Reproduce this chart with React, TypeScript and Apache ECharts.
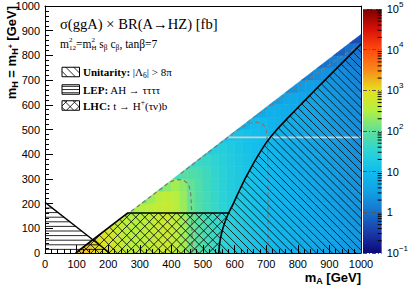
import React, { useEffect, useRef } from "react";
import * as echarts from "echarts";

// ---------------- data ----------------
const AXIS_MIN = 0;
const AXIS_MAX = 1000;
const AXIS_STEP = 100;
const COLORBAR_LOG_MIN = -1;
const COLORBAR_LOG_MAX = 5;
const COLORBAR_DECADES = [-1, 0, 1, 2, 3, 4];
const MINOR_MULTIPLIERS = [2, 3, 4, 5, 6, 7, 8, 9];

const CELL_MA_GEV = 25;
const CELL_MH_GEV = 50;
const ROW_MH_LO = [0, 50, 100, 150, 200, 250, 300, 350, 400, 450, 500, 550, 600, 650, 700, 750, 800, 850];
const ROW_FIRST_MA = [100, 150, 200, 250, 300, 350, 400, 450, 500, 550, 600, 650, 700, 750, 800, 850, 900, 950];

// log10(sigma x BR / fb), one array per mH row, starting at ROW_FIRST_MA, step CELL_MA_GEV in mA
const LOG_SIGMA_MH000 = [3.2, 3.15, 3.02, 2.92, 2.8, 2.68, 2.57, 2.52, 2.56, 2.63, 2.7, 2.72, 2.6, 2.4, 2.12, 1.93, 1.78, 1.65, 1.52, 1.4, 1.3, 1.21, 1.13, 1.06, 0.98, 0.91, 0.85, 0.79, 0.73, 0.68, 0.63, 0.58, 0.53, 0.48, 0.44, 0.4];
const LOG_SIGMA_MH050 = [2.95, 2.88, 2.78, 2.67, 2.56, 2.51, 2.55, 2.62, 2.69, 2.71, 2.59, 2.39, 2.11, 1.92, 1.77, 1.64, 1.51, 1.4, 1.3, 1.21, 1.13, 1.06, 0.98, 0.91, 0.85, 0.79, 0.73, 0.68, 0.63, 0.58, 0.53, 0.48, 0.44, 0.4];
const LOG_SIGMA_MH100 = [2.7, 2.62, 2.54, 2.5, 2.54, 2.61, 2.68, 2.7, 2.58, 2.38, 2.1, 1.91, 1.76, 1.63, 1.5, 1.39, 1.29, 1.2, 1.12, 1.05, 0.97, 0.9, 0.84, 0.78, 0.72, 0.67, 0.62, 0.57, 0.52, 0.47, 0.43, 0.39];
const LOG_SIGMA_MH150 = [2.38, 2.43, 2.5, 2.58, 2.65, 2.68, 2.56, 2.36, 2.08, 1.9, 1.75, 1.62, 1.49, 1.38, 1.28, 1.19, 1.11, 1.04, 0.96, 0.89, 0.83, 0.77, 0.71, 0.66, 0.61, 0.56, 0.51, 0.46, 0.42, 0.38];
const LOG_SIGMA_MH200 = [2.22, 2.38, 2.55, 2.62, 2.52, 2.34, 2.06, 1.88, 1.73, 1.6, 1.47, 1.37, 1.27, 1.18, 1.1, 1.03, 0.95, 0.88, 0.82, 0.76, 0.7, 0.65, 0.6, 0.55, 0.5, 0.45, 0.41, 0.37];
const LOG_SIGMA_MH250 = [2.1, 2.27, 2.4, 2.28, 2.03, 1.86, 1.71, 1.58, 1.46, 1.36, 1.26, 1.17, 1.09, 1.02, 0.94, 0.87, 0.81, 0.75, 0.69, 0.64, 0.59, 0.54, 0.49, 0.44, 0.4, 0.36];
const LOG_SIGMA_MH300 = [1.75, 1.9, 1.88, 1.8, 1.68, 1.56, 1.44, 1.34, 1.25, 1.16, 1.08, 1.01, 0.93, 0.86, 0.8, 0.74, 0.68, 0.63, 0.58, 0.53, 0.48, 0.43, 0.39, 0.35];
const LOG_SIGMA_MH350 = [1.5, 1.62, 1.6, 1.52, 1.41, 1.32, 1.23, 1.15, 1.07, 1.0, 0.92, 0.85, 0.79, 0.73, 0.67, 0.62, 0.57, 0.52, 0.47, 0.42, 0.38, 0.34];
const LOG_SIGMA_MH400 = [1.25, 1.38, 1.37, 1.29, 1.21, 1.13, 1.06, 0.99, 0.91, 0.84, 0.78, 0.72, 0.66, 0.61, 0.56, 0.51, 0.46, 0.41, 0.37, 0.33];
const LOG_SIGMA_MH450 = [1.0, 1.12, 1.15, 1.1, 1.04, 0.98, 0.9, 0.83, 0.77, 0.71, 0.65, 0.6, 0.55, 0.5, 0.45, 0.4, 0.36, 0.32];
const LOG_SIGMA_MH500 = [0.72, 0.88, 0.98, 0.97, 0.88, 0.82, 0.76, 0.7, 0.64, 0.59, 0.54, 0.49, 0.44, 0.39, 0.35, 0.31];
const LOG_SIGMA_MH550 = [0.55, 0.7, 0.78, 0.78, 0.74, 0.68, 0.63, 0.58, 0.53, 0.48, 0.43, 0.38, 0.33, 0.29];
const LOG_SIGMA_MH600 = [0.35, 0.52, 0.62, 0.64, 0.6, 0.56, 0.51, 0.46, 0.41, 0.36, 0.31, 0.26];
const LOG_SIGMA_MH650 = [0.18, 0.35, 0.47, 0.5, 0.48, 0.43, 0.38, 0.33, 0.28, 0.23];
const LOG_SIGMA_MH700 = [0.0, 0.18, 0.3, 0.35, 0.34, 0.29, 0.24, 0.18];
const LOG_SIGMA_MH750 = [-0.15, 0.0, 0.12, 0.18, 0.16, 0.1];
const LOG_SIGMA_MH800 = [-0.3, -0.15, -0.02, 0.02];
const LOG_SIGMA_MH850 = [-0.45, -0.35];

const LOG_SIGMA_ROWS = [
  LOG_SIGMA_MH000, LOG_SIGMA_MH050, LOG_SIGMA_MH100, LOG_SIGMA_MH150, LOG_SIGMA_MH200, LOG_SIGMA_MH250,
  LOG_SIGMA_MH300, LOG_SIGMA_MH350, LOG_SIGMA_MH400, LOG_SIGMA_MH450, LOG_SIGMA_MH500, LOG_SIGMA_MH550,
  LOG_SIGMA_MH600, LOG_SIGMA_MH650, LOG_SIGMA_MH700, LOG_SIGMA_MH750, LOG_SIGMA_MH800, LOG_SIGMA_MH850,
];

// kinematic edge of the coloured region (mA, mH)
const KIN_EDGE_MA = [100, 1000];
const KIN_EDGE_MH = [0, 885];

// unitarity boundary
const UNITARITY_MH = [0, 50, 100, 150, 200, 250, 300, 350, 400, 450, 500, 550, 600, 650, 700, 750, 800, 846];
const UNITARITY_MA = [550, 554, 563, 577, 596, 614, 633, 654, 677, 702, 734, 771, 809, 847, 886, 925, 964, 1000];

// LHC excluded region
const LHC_MA = [97, 262, 580, 577, 563, 554, 550];
const LHC_MH = [0, 162, 162, 150, 100, 50, 0];

// LEP excluded region
const LEP_MA = [0, 0, 205];
const LEP_MH = [0, 205, 0];

// missing row in the scan
const GAP_MA = [576, 1000];
const GAP_MH = [468, 468];

// iso-contours (mA, mH)
const CONTOUR_100 = [[255, 152], [300, 195], [340, 234], [375, 268], [400, 290], [420, 297], [440, 293], [453, 278], [460, 250], [463, 200], [465, 100], [466, 0]];
const CONTOUR_10 = [[430, 322], [500, 391], [560, 450], [610, 498], [640, 520], [665, 530], [685, 525], [698, 505], [703, 460], [705, 350], [706, 200], [706, 0]];
const CONTOUR_1 = [[640, 528], [700, 584], [760, 640], [820, 692], [880, 744], [940, 797], [995, 838]];

const PALETTE = ["#0c0a78", "#1a3aa8", "#1672cc", "#12a0e4", "#10bcee", "#2cd4d4", "#5ee09a", "#b4f040", "#e6e020", "#f88a18", "#ff4a10", "#d81008", "#7c0000"];

// ---------------- helpers ----------------
const SERIF = "'Liberation Serif', 'DejaVu Serif', serif";
const SANS = "'Liberation Sans', 'DejaVu Sans', sans-serif";

let measureCtx: CanvasRenderingContext2D | null = null;
function textWidth(t: string, size: number, family: string, bold: boolean) {
  if (!measureCtx) measureCtx = document.createElement("canvas").getContext("2d");
  if (!measureCtx) return t.length * size * 0.5;
  measureCtx.font = `${bold ? "bold " : ""}${size}px ${family}`;
  return measureCtx.measureText(t).width;
}

type Run = { t: string; s: number; dy?: number; b?: boolean; adv?: boolean };
function layoutRuns(runs: Run[], family: string, x0: number, y0: number) {
  const els: any[] = [];
  let x = x0;
  for (const r of runs) {
    els.push({
      type: "text",
      x,
      y: y0 + (r.dy || 0),
      silent: true,
      style: {
        text: r.t,
        fontSize: r.s,
        fontFamily: family,
        fontWeight: r.b ? "bold" : "normal",
        fill: "#000",
        align: "left",
        verticalAlign: "middle",
      },
    });
    if (r.adv !== false) x += textWidth(r.t, r.s, family, !!r.b);
  }
  return { els, width: x - x0 };
}

function hatch(poly: number[][], angleDeg: number, spacing: number, phase = 0) {
  const a = (angleDeg * Math.PI) / 180;
  const c = Math.cos(a);
  const s = Math.sin(a);
  const r = poly.map(([x, y]) => [x * c + y * s, -x * s + y * c]);
  const ws = r.map((p) => p[1]);
  const minW = Math.min(...ws);
  const maxW = Math.max(...ws);
  const segs: number[][][] = [];
  for (let v = Math.ceil((minW - phase) / spacing) * spacing + phase; v <= maxW; v += spacing) {
    const us: number[] = [];
    for (let i = 0; i < r.length; i++) {
      const p = r[i];
      const q = r[(i + 1) % r.length];
      if ((p[1] <= v && q[1] > v) || (q[1] <= v && p[1] > v)) {
        const t = (v - p[1]) / (q[1] - p[1]);
        us.push(p[0] + t * (q[0] - p[0]));
      }
    }
    us.sort((m, n) => m - n);
    for (let i = 0; i + 1 < us.length; i += 2) {
      const u1 = us[i];
      const u2 = us[i + 1];
      segs.push([
        [u1 * c - v * s, u1 * s + v * c],
        [u2 * c - v * s, u2 * s + v * c],
      ]);
    }
  }
  return segs;
}

function segLines(segs: number[][][], width: number, color = "#000") {
  return segs.map((sg) => ({
    type: "line",
    silent: true,
    shape: { x1: sg[0][0], y1: sg[0][1], x2: sg[1][0], y2: sg[1][1] },
    style: { stroke: color, lineWidth: width },
  }));
}

const EDGE_SLOPE = (KIN_EDGE_MH[1] - KIN_EDGE_MH[0]) / (KIN_EDGE_MA[1] - KIN_EDGE_MA[0]);
function edgeSide(p: number[]) {
  return KIN_EDGE_MH[0] + (p[0] - KIN_EDGE_MA[0]) * EDGE_SLOPE - p[1];
}
function clipToEdge(poly: number[][]) {
  const out: number[][] = [];
  const n = poly.length;
  for (let i = 0; i < n; i++) {
    const cur = poly[i];
    const prev = poly[(i + n - 1) % n];
    const fc = edgeSide(cur);
    const fp = edgeSide(prev);
    const cross = () => {
      const t = fp / (fp - fc);
      return [prev[0] + t * (cur[0] - prev[0]), prev[1] + t * (cur[1] - prev[1])];
    };
    if (fc >= 0) {
      if (fp < 0) out.push(cross());
      out.push(cur);
    } else if (fp >= 0) out.push(cross());
  }
  return out;
}

function zip(xs: number[], ys: number[]) {
  return xs.map((x, i) => [x, ys[i]]);
}

// ---------------- option ----------------
function buildOption() {
  const cells: number[][] = [];
  LOG_SIGMA_ROWS.forEach((row, k) => {
    row.forEach((v, j) => cells.push([ROW_FIRST_MA[k] + j * CELL_MA_GEV, ROW_MH_LO[k], v]));
  });

  const minorTicks: number[][] = [];
  COLORBAR_DECADES.forEach((d) => MINOR_MULTIPLIERS.forEach((m) => minorTicks.push([1, d + Math.log10(m)])));

  const unitarityPoly = zip(UNITARITY_MA, UNITARITY_MH).concat([[1000, 0]]);
  const lhcPoly = zip(LHC_MA, LHC_MH);
  const lepPoly = zip(LEP_MA, LEP_MH);

  const hatchSeries = (poly: number[][], specs: { ang: number; sp: number; ph: number; w: number }[]) => ({
    type: "custom",
    xAxisIndex: 0,
    yAxisIndex: 0,
    clip: true,
    silent: true,
    z: 4,
    data: [[500, 500]],
    renderItem: (_p: any, api: any) => {
      const px = poly.map((pt) => api.coord(pt));
      let children: any[] = [];
      specs.forEach((sp) => {
        children = children.concat(segLines(hatch(px, sp.ang, sp.sp, sp.ph), sp.w, "#111"));
      });
      return { type: "group", children };
    },
  });

  const boundary = (pts: number[][], width: number, smooth: number | boolean = false) => ({
    type: "line",
    xAxisIndex: 0,
    yAxisIndex: 0,
    data: pts,
    symbol: "none",
    smooth,
    silent: true,
    z: 5,
    lineStyle: { color: "#000", width },
  });

  const contour = (pts: number[][]) => ({
    type: "line",
    xAxisIndex: 0,
    yAxisIndex: 0,
    data: pts,
    symbol: "none",
    smooth: 0.3,
    silent: true,
    z: 3,
    lineStyle: { color: "#7a7a7a", width: 1.2, type: [4, 3] },
  });

  // ---- texts ----
  const graphics: any[] = [];
  graphics.push(...layoutRuns([{ t: "σ(ggA) × BR(A→HZ) [fb]", s: 14.6 }], SERIF, 60, 24).els);
  graphics.push(
    ...layoutRuns(
      [
        { t: "m", s: 11.5 },
        { t: "2", s: 7, dy: -4.4, adv: false },
        { t: "12", s: 7, dy: 3.8 },
        { t: "=m", s: 11.5 },
        { t: "2", s: 7, dy: -4.4, adv: false },
        { t: "H", s: 7, dy: 3.8 },
        { t: " s", s: 11.5 },
        { t: "β", s: 7.5, dy: 3.4 },
        { t: " c", s: 11.5 },
        { t: "β", s: 7.5, dy: 3.4 },
        { t: ", tanβ=7", s: 11.5 },
      ],
      SERIF,
      60,
      44
    ).els
  );

  const boxX = 62;
  const boxW = 17.5;
  const boxH = 9.5;
  const rowsY = [72, 89.5, 105.5];
  const legendRuns: Run[][] = [
    [
      { t: "Unitarity:", s: 11, b: true },
      { t: " |Λ", s: 11 },
      { t: "6", s: 7.5, dy: 3 },
      { t: "| > 8π", s: 11 },
    ],
    [
      { t: "LEP:", s: 11, b: true },
      { t: " AH → ττττ", s: 11 },
    ],
    [
      { t: "LHC:", s: 11, b: true },
      { t: " t → H", s: 11 },
      { t: "+", s: 7.5, dy: -3.5 },
      { t: "(τν)b", s: 11 },
    ],
  ];
  rowsY.forEach((cy, i) => {
    const y0 = cy - boxH / 2;
    const poly = [
      [boxX, y0],
      [boxX + boxW, y0],
      [boxX + boxW, y0 + boxH],
      [boxX, y0 + boxH],
    ];
    let segs: number[][][] = [];
    if (i === 0) segs = hatch(poly, 45, 5.6, 1);
    if (i === 1) segs = hatch(poly, 0, 3.2, y0 + 1.6);
    if (i === 2) segs = hatch(poly, 45, 6.2, 1).concat(hatch(poly, -45, 6.2, 1));
    graphics.push(...segLines(segs, 0.9, "#111"));
    graphics.push({
      type: "rect",
      silent: true,
      shape: { x: boxX, y: y0, width: boxW, height: boxH },
      style: { fill: "none", stroke: "#000", lineWidth: 1 },
    });
    graphics.push(...layoutRuns(legendRuns[i], SERIF, 83, cy).els);
  });

  const xt = layoutRuns(
    [
      { t: "m", s: 13, b: true },
      { t: "A", s: 9, b: true, dy: 3.5 },
      { t: " [GeV]", s: 13, b: true },
    ],
    SANS,
    0,
    0
  );
  graphics.push({ type: "group", x: 361 - xt.width, y: 277, children: xt.els });

  const yt = layoutRuns(
    [
      { t: "m", s: 13, b: true },
      { t: "H", s: 9, b: true, dy: 3.5 },
      { t: " = m", s: 13, b: true },
      { t: "H", s: 9, b: true, dy: 3.5 },
      { t: "+", s: 7, b: true, dy: -0.5 },
      { t: " [GeV]", s: 13, b: true },
    ],
    SANS,
    0,
    0
  );
  graphics.push({ type: "group", x: 11, y: 6 + yt.width, rotation: Math.PI / 2, children: yt.els });

  const plainNumber = (v: number) => String(v);

  const mainAxisCommon = {
    type: "value",
    min: AXIS_MIN,
    max: AXIS_MAX,
    interval: AXIS_STEP,
    gridIndex: 0,
    z: 10,
    axisLine: { show: true, onZero: false, lineStyle: { color: "#000", width: 1 } },
    axisTick: { show: true, inside: true, length: 8, lineStyle: { color: "#000", width: 1 } },
    minorTick: { show: true, splitNumber: 5, length: 4, lineStyle: { color: "#000", width: 1 } },
    axisLabel: { color: "#000", fontSize: 11, fontFamily: SANS, margin: 5, formatter: plainNumber },
    splitLine: { show: false },
  };
  const frameAxis = {
    type: "value",
    min: AXIS_MIN,
    max: AXIS_MAX,
    gridIndex: 0,
    z: 10,
    axisLine: { show: true, onZero: false, lineStyle: { color: "#000", width: 1 } },
    axisTick: { show: false },
    axisLabel: { show: false },
    splitLine: { show: false },
  };

  const stops = PALETTE.map((c, i) => ({ offset: 1 - i / (PALETTE.length - 1), color: c })).reverse();

  return {
    animation: false,
    backgroundColor: "#ffffff",
    grid: [
      { left: 45, top: 6, width: 316, height: 247, show: false },
      { left: 363, top: 6, width: 19, height: 247, show: false },
    ],
    xAxis: [
      { ...mainAxisCommon, position: "bottom" },
      { ...frameAxis, position: "top" },
      { type: "value", gridIndex: 1, min: 0, max: 1, show: false },
    ],
    yAxis: [
      { ...mainAxisCommon, position: "left" },
      { ...frameAxis, position: "right" },
      {
        type: "value",
        gridIndex: 1,
        min: COLORBAR_LOG_MIN,
        max: COLORBAR_LOG_MAX,
        interval: 1,
        position: "right",
        z: 10,
        axisLine: { show: false },
        axisTick: { show: false },
        splitLine: { show: true, lineStyle: { color: "#555", width: 1, type: [4, 2, 1, 2] } },
        axisLabel: {
          color: "#000",
          fontSize: 11,
          fontFamily: SANS,
          margin: 5,
          formatter: (v: number) =>
            v === 0 ? "1" : v === 1 ? "10" : `{b|10}{e|${v < 0 ? "−" + -v : v}}`,
          rich: {
            b: { fontSize: 11, fontFamily: SANS, color: "#000", lineHeight: 18 },
            e: { fontSize: 8, fontFamily: SANS, color: "#000", verticalAlign: "top", lineHeight: 8 },
          },
        },
      },
    ],
    visualMap: [
      {
        type: "continuous",
        show: false,
        seriesIndex: 0,
        dimension: 2,
        min: COLORBAR_LOG_MIN,
        max: COLORBAR_LOG_MAX,
        inRange: { color: PALETTE },
      },
    ],
    series: [
      {
        type: "custom",
        xAxisIndex: 0,
        yAxisIndex: 0,
        clip: true,
        silent: true,
        z: 1,
        dimensions: ["mA", "mH", "logSigma"],
        encode: { x: 0, y: 1 },
        data: cells,
        renderItem: (_p: any, api: any) => {
          const x0 = api.value(0);
          const y0 = api.value(1);
          const poly = clipToEdge([
            [x0, y0],
            [x0 + CELL_MA_GEV, y0],
            [x0 + CELL_MA_GEV, y0 + CELL_MH_GEV],
            [x0, y0 + CELL_MH_GEV],
          ]);
          if (poly.length < 3) return null;
          const color = api.visual("color");
          return {
            type: "polygon",
            shape: { points: poly.map((p) => api.coord(p)) },
            style: { fill: color, stroke: color, lineWidth: 0.6 },
          };
        },
      },
      {
        type: "line",
        xAxisIndex: 0,
        yAxisIndex: 0,
        data: zip(GAP_MA, GAP_MH),
        symbol: "none",
        silent: true,
        z: 2,
        lineStyle: { color: "#cdcdcd", width: 1.6 },
      },
      contour(CONTOUR_100),
      contour(CONTOUR_10),
      contour(CONTOUR_1),
      hatchSeries(unitarityPoly, [{ ang: 45, sp: 5.6, ph: 0, w: 0.9 }]),
      hatchSeries(lepPoly, [{ ang: 0, sp: 4.6, ph: 1, w: 0.9 }]),
      hatchSeries(lhcPoly, [
        { ang: 45, sp: 6.4, ph: 0, w: 0.9 },
        { ang: -45, sp: 6.4, ph: 0, w: 0.9 },
      ]),
      boundary(zip(UNITARITY_MA, UNITARITY_MH), 1.6, 0.3),
      boundary(zip(LHC_MA.slice(0, 3), LHC_MH.slice(0, 3)), 1.6),
      boundary([zip(LEP_MA, LEP_MH)[1], zip(LEP_MA, LEP_MH)[2]], 1.3),
      {
        type: "custom",
        xAxisIndex: 2,
        yAxisIndex: 2,
        silent: true,
        z: 1,
        data: [[0, COLORBAR_LOG_MIN]],
        renderItem: (_p: any, api: any) => {
          const a = api.coord([0, COLORBAR_LOG_MAX]);
          const b = api.coord([1, COLORBAR_LOG_MIN]);
          return {
            type: "rect",
            shape: { x: a[0], y: a[1], width: b[0] - a[0], height: b[1] - a[1] },
            style: { fill: new echarts.graphic.LinearGradient(0, 0, 0, 1, stops) },
          };
        },
      },
      {
        type: "custom",
        xAxisIndex: 2,
        yAxisIndex: 2,
        silent: true,
        z: 6,
        data: minorTicks,
        renderItem: (_p: any, api: any) => {
          const p = api.coord([api.value(0), api.value(1)]);
          return {
            type: "line",
            shape: { x1: p[0], y1: p[1], x2: p[0] - 4, y2: p[1] },
            style: { stroke: "#000", lineWidth: 1 },
          };
        },
      },
    ],
    graphic: graphics,
  };
}

export default function App() {
  const ref = useRef<HTMLDivElement>(null);
  useEffect(() => {
    if (!ref.current) return;
    const chart = echarts.init(ref.current, undefined, { renderer: "svg" });
    chart.setOption(buildOption() as any);
    return () => chart.dispose();
  }, []);
  return (
    <div
      ref={ref}
      style={{ position: "fixed", left: 0, top: 0, width: 411, height: 288, background: "#fff" }}
    />
  );
}
